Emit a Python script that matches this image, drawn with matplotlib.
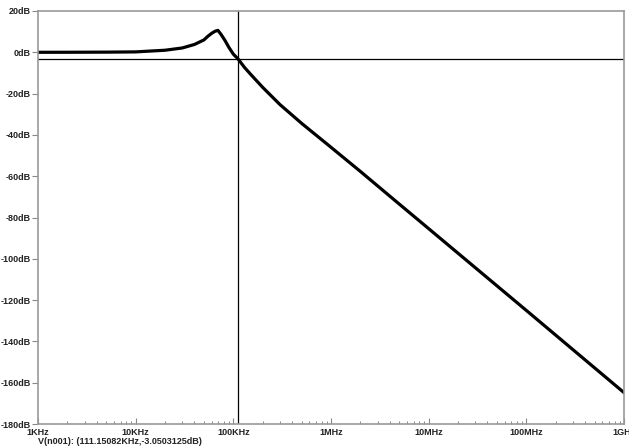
import numpy as np
import matplotlib.pyplot as plt
from matplotlib.ticker import FixedLocator, LogLocator, NullFormatter

# values (frequency in Hz, magnitude in dB)
freq = [1e3, 2e3, 5e3, 10e3, 20e3, 30e3, 40e3, 50e3, 55e3, 60e3, 65e3,
        69.6e3, 75e3, 82e3, 90e3, 100e3, 111e3, 130e3, 150e3, 200e3,
        300e3, 500e3, 1e6, 2e6, 5e6, 10e6, 100e6, 1e9]
mag_db = [0.0, 0.02, 0.08, 0.2, 1.0, 2.1, 3.8, 6.0, 7.8, 9.2, 10.2,
          10.6, 8.6, 5.8, 2.4, -0.9, -3.05, -7.3, -10.6, -17.0,
          -25.3, -34.4, -46.0, -57.7, -73.5, -85.4, -125.0, -164.8]

cursor_f = '111.15082KHz'
cursor_db = '-3.0503125dB'
cursor_fx = 111.15082e3
cursor_dy = -3.0503125

y_ticks = [20, 0, -20, -40, -60, -80, -100, -120, -140, -160, -180]
y_labels = ['%ddB' % v for v in y_ticks]
x_ticks = [1e3, 1e4, 1e5, 1e6, 1e7, 1e8, 1e9]
x_labels = ['1KHz', '10KHz', '100KHz', '1MHz', '10MHz', '100MHz', '1GHz']

plt.rcParams['font.family'] = ['Liberation Sans', 'DejaVu Sans']

fig = plt.figure(figsize=(6.29, 4.47), dpi=100)
ax = fig.add_axes([38 / 629, 1 - 424 / 447, 586 / 629, 413 / 447])

ax.plot(freq, mag_db, color='black', lw=2.3, solid_joinstyle='round')
ax.axvline(cursor_fx, color='black', lw=0.9)
ax.axhline(cursor_dy, color='black', lw=0.9)

ax.set_xscale('log')
ax.set_xlim(1e3, 1e9)
ax.set_ylim(-180, 20)

ax.yaxis.set_major_locator(FixedLocator(y_ticks))
ax.set_yticklabels(y_labels, fontsize=6.5, fontweight='bold', color='#222222')
ax.xaxis.set_major_locator(FixedLocator(x_ticks))
ax.set_xticklabels(x_labels, fontsize=6.5, fontweight='bold', color='#222222')
ax.xaxis.set_minor_locator(LogLocator(base=10, subs=np.arange(2, 10)))
ax.xaxis.set_minor_formatter(NullFormatter())

ax.tick_params(axis='y', direction='out', length=4, width=0.8, color='#888888', pad=1)
ax.tick_params(axis='x', which='major', direction='in', length=4, width=0.8,
               color='#888888', pad=3)
ax.tick_params(axis='x', which='minor', direction='in', length=2.5, width=0.7,
               color='#888888')

for s in ax.spines.values():
    s.set_color('#999999')
    s.set_linewidth(1.2)

fig.text(38 / 629, 1 - 441 / 447,
         'V(n001): (%s,%s)' % (cursor_f, cursor_db),
         fontsize=6.5, fontweight='bold', color='#222222', va='center')

fig.savefig('out.png', dpi=100)
